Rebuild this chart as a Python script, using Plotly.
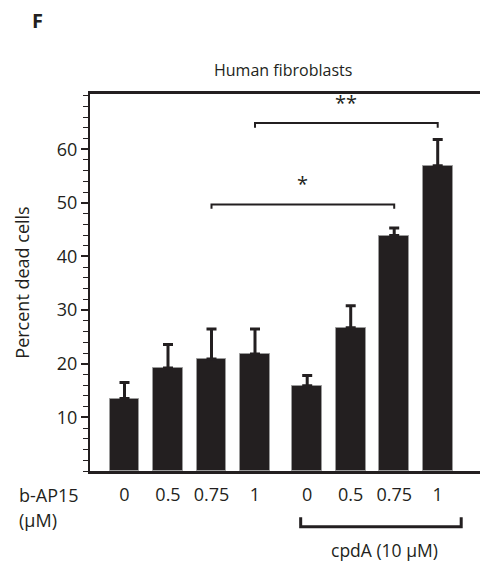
import plotly.graph_objects as go

# ---- data ----
dose_labels = ["0", "0.5", "0.75", "1", "0", "0.5", "0.75", "1"]
percent_dead = [13.5, 19.2, 20.9, 21.8, 15.9, 26.7, 43.9, 56.9]
error_up = [3.0, 4.4, 5.6, 4.7, 1.9, 4.1, 1.4, 4.9]
y_tick_vals = [10, 20, 30, 40, 50, 60]

# ---- layout helpers (positions, not data) ----
group_gap = 0.2
xpos = [i + (group_gap if i >= 4 else 0) for i in range(len(percent_dead))]

INK = "#231f20"
FONT = "Open Sans"

fig = go.Figure()
fig.add_trace(go.Bar(
    x=xpos, y=percent_dead, width=0.68,
    marker=dict(color=INK, line=dict(color="#9a9a9a", width=1)),
    error_y=dict(type="data", symmetric=False, array=error_up,
                 arrayminus=[0] * len(error_up), color=INK,
                 thickness=3, width=5),
    showlegend=False,
))

shapes = []
def bracket(i, j, y, leg):
    x0, x1 = xpos[i], xpos[j]
    shapes.append(dict(type="path", xref="x", yref="y",
                       path=f"M {x0},{y-leg} L {x0},{y} L {x1},{y} L {x1},{y-leg}",
                       line=dict(color=INK, width=2)))

bracket(2, 6, 49.7, 0.8)
bracket(3, 7, 64.9, 0.9)

# cpdA bracket below the axis
shapes.append(dict(type="path", xref="x", yref="paper",
                   path=f"M 4.05,-0.123 L 4.05,-0.148 L 7.74,-0.148 L 7.74,-0.123",
                   line=dict(color=INK, width=3)))

def note(x, y, text, size=18, xref="paper", yref="paper", xanchor="center"):
    return dict(x=x, y=y, xref=xref, yref=yref, text=text, showarrow=False,
                xanchor=xanchor, yanchor="middle", borderpad=0,
                font=dict(size=size, color=INK, family=FONT))

annotations = [
    note((xpos[2] + xpos[6]) / 2, 53.6, "*", 20, "x", "y"),
    note((xpos[3] + xpos[7]) / 2, 68.7, "**", 20, "x", "y"),
    note(0.486, 1.064, "Human fibroblasts", 16),
    note(-0.132, 1.196, "<b>F</b>", 20),
    note(-0.181, -0.064, "b-AP15", 18, xanchor="left"),
    note(-0.181, -0.13, "(μM)", 18, xanchor="left"),
    note(5.97, -0.209, "cpdA (10 μM)", 17.5, xref="x"),
]

# The page body adds an 8px margin, so the figure is 8px smaller on each side
fig.update_layout(
    width=480, height=554,
    margin=dict(l=82, r=0, t=86, b=91),
    paper_bgcolor="white", plot_bgcolor="white",
    font=dict(family=FONT, size=18, color=INK),
    shapes=shapes, annotations=annotations,
    bargap=0,
)
fig.update_xaxes(
    range=[-0.793, 8.356], showgrid=False, zeroline=False,
    showline=True, linecolor=INK, linewidth=3, mirror=True,
    tickmode="array", tickvals=xpos, ticktext=dose_labels,
    ticks="", ticklabelstandoff=5,
    tickfont=dict(size=18, color=INK, family=FONT),
)
fig.update_yaxes(
    range=[0, 70.3], showgrid=False, zeroline=False,
    showline=True, linecolor=INK, linewidth=2,
    tickmode="array", tickvals=y_tick_vals,
    ticks="outside", ticklen=7, tickwidth=2, tickcolor=INK,
    minor=dict(tickmode="linear", tick0=0, dtick=2, ticks="outside",
               ticklen=5, tickwidth=1, tickcolor=INK),
    tickfont=dict(size=18, color=INK, family=FONT),
    title=dict(text="Percent dead cells", font=dict(size=18, color=INK, family=FONT),
               standoff=23),
)

fig.write_html("out.html")
